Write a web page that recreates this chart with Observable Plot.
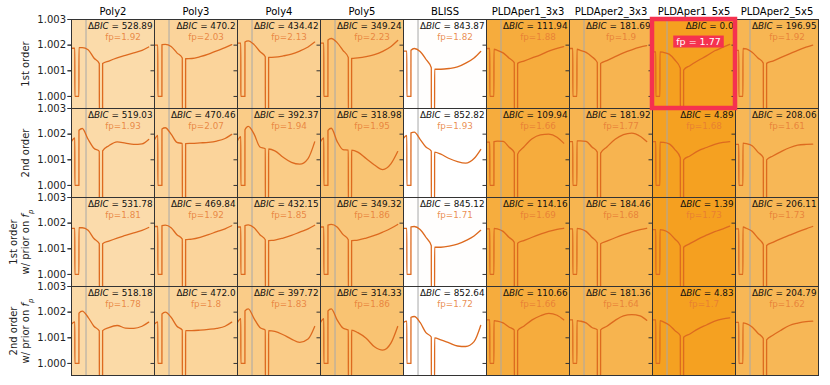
<!DOCTYPE html>
<html>
<head>
<meta charset="utf-8">
<script src="https://cdn.jsdelivr.net/npm/d3@7"></script>
<script src="https://cdn.jsdelivr.net/npm/@observablehq/plot@0.6"></script>
<style>
  html, body { margin: 0; padding: 0; background: white; }
  svg { font-family: "DejaVu Sans", sans-serif; }
</style>
</head>
<body>
<div id="chart"></div>
<script>
// ---------- data ----------
const models = ["Poly2", "Poly3", "Poly4", "Poly5", "BLISS", "PLDAper1_3x3", "PLDAper2_3x3", "PLDAper1_5x5", "PLDAper2_5x5"];
const rows = ["1st order", "2nd order", "1st order\nw/ prior on fp", "2nd order\nw/ prior on fp"];

const deltaBIC1st      = [528.89, 470.2, 434.42, 349.24, 843.87, 111.94, 181.69, 0.0, 196.95];
const deltaBIC2nd      = [519.03, 470.46, 392.37, 318.98, 852.82, 109.94, 181.92, 4.89, 208.06];
const deltaBIC1stPrior = [531.78, 469.84, 432.15, 349.32, 845.12, 114.16, 184.46, 1.39, 206.11];
const deltaBIC2ndPrior = [518.18, 472.0, 397.72, 314.33, 852.64, 110.66, 181.36, 4.83, 204.79];

const fp1st      = [1.92, 2.03, 2.13, 2.23, 1.82, 1.88, 1.9, 1.77, 1.92];
const fp2nd      = [1.93, 2.07, 1.94, 1.95, 1.93, 1.66, 1.77, 1.68, 1.61];
const fp1stPrior = [1.81, 1.92, 1.85, 1.86, 1.71, 1.69, 1.68, 1.73, 1.73];
const fp2ndPrior = [1.78, 1.8, 1.83, 1.86, 1.72, 1.66, 1.64, 1.7, 1.62];

// orbital phase knots (fraction of panel) and flux (ppt above 1) at each knot
const phaseKnots = [0, 0.04, 0.09, 0.13, 0.20, 0.27, 0.335, 0.375, 0.45, 0.55, 0.65, 0.75, 0.85, 0.93];
const eclipseWindow = [0.04, 0.09];
const eclipseFloor = 0.0;
const transitWindow = [0.335, 0.375];
const transitFloor = -0.8;
const phaseMarks = [0.175];

const flux1st = [
  [1.88, 1.88, 1.9, 1.9, 1.82, 1.5, 1.28, 1.28, 1.38, 1.5, 1.6, 1.7, 1.8, 1.93],
  [2.0, 2.0, 2.02, 2.03, 1.95, 1.7, 1.5, 1.47, 1.48, 1.55, 1.65, 1.78, 1.9, 2.02],
  [2.08, 2.08, 2.12, 2.17, 2.02, 1.75, 1.55, 1.52, 1.53, 1.58, 1.65, 1.77, 1.93, 2.12],
  [2.08, 2.08, 2.2, 2.26, 2.1, 1.8, 1.52, 1.48, 1.5, 1.55, 1.63, 1.76, 1.95, 2.18],
  [1.77, 1.77, 1.8, 1.87, 1.75, 1.45, 1.12, 1.06, 1.06, 1.09, 1.15, 1.3, 1.5, 1.75],
  [1.87, 1.87, 1.84, 1.8, 1.7, 1.5, 1.32, 1.29, 1.38, 1.5, 1.62, 1.77, 1.87, 1.94],
  [1.87, 1.87, 1.84, 1.8, 1.72, 1.55, 1.32, 1.29, 1.4, 1.55, 1.7, 1.82, 1.92, 1.98],
  [1.74, 1.74, 1.74, 1.72, 1.65, 1.42, 1.1, 1.03, 1.2, 1.4, 1.58, 1.78, 1.92, 2.03],
  [1.8, 1.8, 1.87, 1.85, 1.72, 1.5, 1.3, 1.29, 1.38, 1.52, 1.66, 1.8, 1.92, 2.0]
];
const flux2nd = [
  [1.72, 1.85, 2.15, 2.22, 1.8, 1.45, 1.33, 1.35, 1.55, 1.7, 1.65, 1.6, 1.62, 1.79],
  [1.78, 1.95, 2.2, 2.25, 2.0, 1.68, 1.63, 1.63, 1.64, 1.66, 1.68, 1.73, 1.83, 1.99],
  [1.74, 1.9, 2.17, 2.3, 2.0, 1.5, 1.43, 1.42, 1.35, 1.1, 0.9, 0.83, 1.05, 1.7],
  [1.71, 1.85, 2.15, 2.23, 1.72, 1.4, 1.38, 1.38, 1.3, 1.05, 0.8, 0.62, 0.85, 1.32],
  [1.84, 1.95, 2.05, 2.08, 1.8, 1.5, 1.34, 1.3, 1.22, 1.05, 0.93, 0.87, 1.05, 1.4],
  [1.69, 1.69, 1.71, 1.73, 1.72, 1.5, 1.28, 1.22, 1.5, 1.82, 1.97, 2.0, 1.88, 1.65],
  [1.71, 1.71, 1.74, 1.74, 1.72, 1.5, 1.3, 1.26, 1.5, 1.8, 1.98, 2.04, 1.92, 1.71],
  [1.71, 1.71, 1.69, 1.68, 1.62, 1.4, 1.08, 1.0, 1.15, 1.35, 1.48, 1.6, 1.68, 1.71],
  [1.6, 1.6, 1.65, 1.63, 1.55, 1.3, 1.08, 1.0, 1.15, 1.32, 1.47, 1.57, 1.6, 1.61]
];
const flux1stPrior = [
  [1.8, 1.8, 1.82, 1.82, 1.72, 1.4, 1.2, 1.2, 1.3, 1.42, 1.52, 1.62, 1.72, 1.83],
  [1.87, 1.87, 1.9, 1.92, 1.82, 1.55, 1.38, 1.36, 1.38, 1.45, 1.55, 1.67, 1.78, 1.9],
  [1.85, 1.85, 1.9, 1.93, 1.82, 1.55, 1.35, 1.32, 1.34, 1.42, 1.52, 1.65, 1.78, 1.92],
  [1.85, 1.85, 1.92, 1.95, 1.85, 1.56, 1.35, 1.32, 1.34, 1.42, 1.52, 1.65, 1.8, 1.95],
  [1.8, 1.8, 1.85, 1.87, 1.75, 1.45, 1.12, 1.06, 1.06, 1.1, 1.18, 1.32, 1.5, 1.72],
  [1.78, 1.78, 1.8, 1.78, 1.68, 1.45, 1.25, 1.22, 1.32, 1.45, 1.57, 1.68, 1.76, 1.8],
  [1.78, 1.78, 1.8, 1.78, 1.68, 1.45, 1.23, 1.2, 1.3, 1.43, 1.55, 1.66, 1.75, 1.8],
  [1.75, 1.75, 1.75, 1.73, 1.62, 1.38, 1.12, 1.06, 1.2, 1.38, 1.53, 1.67, 1.78, 1.88],
  [1.78, 1.78, 1.85, 1.8, 1.68, 1.42, 1.17, 1.13, 1.25, 1.4, 1.53, 1.66, 1.78, 1.87]
];
const flux2ndPrior = [
  [1.54, 1.62, 1.96, 2.04, 1.8, 1.45, 1.27, 1.28, 1.4, 1.48, 1.38, 1.37, 1.45, 1.61],
  [1.54, 1.62, 1.93, 2.0, 1.8, 1.45, 1.3, 1.28, 1.28, 1.3, 1.33, 1.37, 1.45, 1.61],
  [1.6, 1.75, 2.05, 2.13, 1.75, 1.4, 1.3, 1.28, 1.25, 1.12, 0.95, 0.82, 0.95, 1.44],
  [1.6, 1.75, 2.05, 2.13, 1.7, 1.38, 1.3, 1.3, 1.2, 0.98, 0.65, 0.52, 0.8, 1.44],
  [1.6, 1.65, 1.8, 1.83, 1.6, 1.2, 1.03, 1.0, 0.92, 0.8, 0.68, 0.66, 0.85, 1.48],
  [1.7, 1.7, 1.67, 1.65, 1.58, 1.42, 1.3, 1.28, 1.45, 1.7, 1.86, 1.95, 1.88, 1.7],
  [1.7, 1.7, 1.67, 1.65, 1.58, 1.4, 1.31, 1.31, 1.45, 1.68, 1.85, 1.9, 1.85, 1.68],
  [1.7, 1.7, 1.67, 1.62, 1.5, 1.28, 1.08, 1.02, 1.15, 1.35, 1.5, 1.65, 1.74, 1.78],
  [1.6, 1.6, 1.58, 1.55, 1.42, 1.18, 0.97, 0.92, 1.1, 1.3, 1.48, 1.57, 1.63, 1.65]
];

const yTicks = [0, 1, 2, 3];
const selectedModel = "PLDAper1_5x5";
const selectedRow = "1st order";

// ---------- build tables ----------
const bicByRow = [deltaBIC1st, deltaBIC2nd, deltaBIC1stPrior, deltaBIC2ndPrior];
const fpByRow = [fp1st, fp2nd, fp1stPrior, fp2ndPrior];
const fluxByRow = [flux1st, flux2nd, flux1stPrior, flux2ndPrior];

const pyStr = v => { const s = String(v); return s.includes(".") ? s : s + ".0"; };

const panels = [];
rows.forEach((row, r) => models.forEach((model, c) => {
  panels.push({model, row, bic: bicByRow[r][c], fp: fpByRow[r][c],
               selected: model === selectedModel && row === selectedRow});
}));

const linePoints = [];
rows.forEach((row, r) => models.forEach((model, c) => {
  const f = fluxByRow[r][c];
  phaseKnots.forEach((x, k) => {
    if (x === eclipseWindow[1]) {
      linePoints.push({model, row, x: eclipseWindow[0] + 0.0005, y: eclipseFloor});
      linePoints.push({model, row, x: eclipseWindow[1] - 0.0005, y: eclipseFloor});
    }
    if (x === transitWindow[1]) {
      linePoints.push({model, row, x: transitWindow[0] + 0.0005, y: transitFloor});
      linePoints.push({model, row, x: transitWindow[1] - 0.0005, y: transitFloor});
    }
    linePoints.push({model, row, x, y: f[k]});
  });
}));

const rowLabels = rows.map(row => ({row, model: models[0]}));
const maxBIC = d3.max(panels, d => d.bic);

const plot = Plot.plot({
  width: 830,
  height: 385,
  marginLeft: 69,
  marginRight: 10,
  marginTop: 18,
  marginBottom: 9.5,
  style: {fontFamily: "DejaVu Sans", background: "white", overflow: "visible"},
  x: {domain: [0, 1], axis: null},
  y: {domain: [-0.47, 3.0], axis: null},
  fx: {domain: models, padding: 0, axis: null},
  fy: {domain: rows, padding: 0, axis: null},
  color: {type: "linear", domain: [0, maxBIC], range: ["#f5a020", "#ffffff"]},
  marks: [
    Plot.rect(panels, {fx: "model", fy: "row", fill: "bic"}),
    Plot.ruleX(phaseMarks, {stroke: "#a8a8a8", strokeWidth: 1}),
    Plot.line(linePoints, {fx: "model", fy: "row", x: "x", y: "y", curve: "monotone-x",
                           stroke: "#dd6a1f", strokeWidth: 1.3, clip: true}),
    Plot.text(panels, {fx: "model", fy: "row", text: d => "ΔBIC = " + pyStr(d.bic),
                       frameAnchor: "top-right", dx: -2, dy: 3, lineAnchor: "top",
                       fontSize: 8.8, fill: "#111"}),
    Plot.text(panels.filter(d => !d.selected), {fx: "model", fy: "row", text: d => "fp=" + pyStr(d.fp),
                       frameAnchor: "top", dx: 10, dy: 14, lineAnchor: "top",
                       fontSize: 8.8, fill: "#e67a35", fillOpacity: 0.85}),
    Plot.text(panels.filter(d => d.selected), {fx: "model", fy: "row", text: d => "fp = " + pyStr(d.fp),
                       frameAnchor: "top", dx: 4.5, dy: 22.5, lineAnchor: "middle",
                       fontSize: 9.5, fill: "white"}),
    Plot.frame({stroke: "#333", strokeWidth: 1}),
    Plot.axisY({ticks: yTicks, tickFormat: () => "", tickSize: 3.5, label: null, facetAnchor: null, stroke: "#333"}),
    Plot.axisY({ticks: yTicks, tickFormat: d => (1 + d / 1000).toFixed(3), tickSize: 3.5, tickPadding: 2,
                fontSize: 10, label: null, stroke: "#333", fill: "#222"}),
    Plot.axisFx({anchor: "top", tickSize: 0, tickPadding: 5, fontSize: 10, label: null}),
    Plot.text(rowLabels, {fx: "model", fy: "row", text: "row", frameAnchor: "left", dx: -43, rotate: -90,
                     lineAnchor: "bottom", textAnchor: "middle", fontSize: 10, lineHeight: 1.15, fill: "#222"}),
    Plot.rect(panels.filter(d => d.selected), {fx: "model", fy: "row", fill: "none",
                     stroke: "#f5324f", strokeWidth: 4.5})
  ]
});

document.getElementById("chart").appendChild(plot);

// ---------- rich-text touches ----------
const NS = "http://www.w3.org/2000/svg";
plot.querySelectorAll("text, tspan").forEach(t => {
  if (t.children.length) return;
  const s = t.textContent;
  if (s.startsWith("ΔBIC")) {
    t.textContent = "Δ";
    const it = document.createElementNS(NS, "tspan");
    it.setAttribute("font-style", "italic");
    it.textContent = "BIC";
    t.appendChild(it);
    t.appendChild(document.createTextNode(s.slice(4)));
  } else if (s.endsWith("on fp")) {
    t.textContent = s.slice(0, -2);
    const f = document.createElementNS(NS, "tspan");
    f.setAttribute("font-style", "italic");
    f.textContent = "f";
    const p = document.createElementNS(NS, "tspan");
    p.setAttribute("font-style", "italic");
    p.setAttribute("font-size", "7");
    p.setAttribute("baseline-shift", "sub");
    p.textContent = "p";
    t.appendChild(f);
    t.appendChild(p);
  }
});
const sel = [...plot.querySelectorAll("text")].find(t => t.textContent.startsWith("fp = "));
if (sel) {
  const bb = sel.getBBox();
  const r = document.createElementNS(NS, "rect");
  r.setAttribute("x", bb.x - 3);
  r.setAttribute("y", bb.y - 0.5);
  r.setAttribute("width", bb.width + 6);
  r.setAttribute("height", bb.height + 1);
  r.setAttribute("fill", "#f5324f");
  r.setAttribute("stroke", "none");
  if (sel.getAttribute("transform")) r.setAttribute("transform", sel.getAttribute("transform"));
  sel.parentNode.insertBefore(r, sel);
}
</script>
</body>
</html>
